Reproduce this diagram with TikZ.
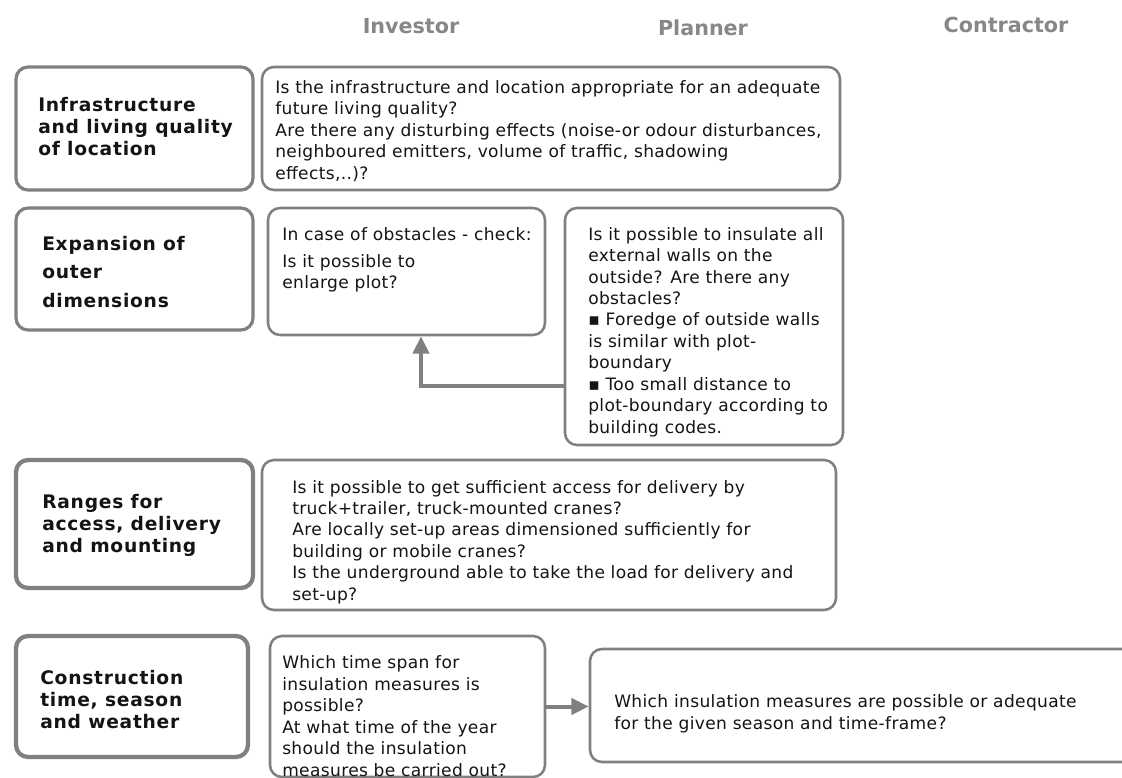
\documentclass[tikz,border=0pt]{standalone}
\usepackage{fontspec}
\setmainfont{DejaVu Sans}
\usetikzlibrary{fit,arrows.meta}
\definecolor{boxgray}{RGB}{128,128,128}
\definecolor{hdrgray}{RGB}{135,135,135}
\definecolor{ink}{RGB}{20,20,20}
\newfontfamily\bodyface[LetterSpace=2]{DejaVu Sans}
\newfontfamily\labelface[LetterSpace=4]{DejaVu Sans}
\tikzset{
  box/.style={draw=boxgray, line width=1.9pt, rounded corners=9pt, inner sep=0pt},
  topicbox/.style={box, line width=2.4pt},
  heavybox/.style={box, line width=3.2pt},
  txt/.style={inner sep=0pt, align=left, anchor=west, text=ink,
    font=\bodyface\fontsize{12.8}{16.1}\selectfont},
  lbl/.style={inner sep=0pt, align=left, anchor=west, text=ink,
    font=\labelface\bfseries\fontsize{14}{16.5}\selectfont},
  hdr/.style={inner sep=0pt, text=hdrgray, font=\bfseries\fontsize{15.5}{17}\selectfont},
  conn/.style={draw=boxgray, line width=3pt, -{Triangle[length=13pt,width=12pt]}}
}
\begin{document}
\begin{tikzpicture}[x=0.75pt, y=-0.75pt]
\clip (0,0) rectangle (1122,778);
\fill[white] (0,0) rectangle (1122,778);

% column headings
\node[hdr] (hInv) at (411,26) {Investor};
\node[hdr] (hPla) at (703,28) {Planner};
\node[hdr] (hCon) at (1006,25) {Contractor};

% row 1: infrastructure
\node[topicbox, fit={(16,67) (253,190)}] (l1) {};
\node[lbl] (l1t) at (38,127) {Infrastructure\\and living quality\\of location};
\node[box, fit={(262,67) (840,190)}] (t1) {};
\node[txt] (t1t) at (275,131) {Is the infrastructure and location appropriate for an adequate\\
future living quality?\\
Are there any disturbing effects (noise-or odour disturbances,\\
neighboured emitters, volume of traffic, shadowing\\
effects,..)?};

% row 2: expansion of outer dimensions
\node[topicbox, fit={(16,208) (253,330)}] (l2) {};
\node[lbl] (l2t) at (42,272) {Expansion of\\[5pt]outer\\[5pt]dimensions};
\node[box, fit={(268,208) (545,335)}] (m2) {};
\node[txt] (m2t) at (282,260) {In case of obstacles - check:\\[4pt]
Is it possible to\\
enlarge plot?};
\node[box, fit={(565,208) (843,445)}] (r2) {};
\node[txt] (r2t) at (588,332) {Is it possible to insulate all\\
external walls on the\\
outside? Are there any\\
obstacles?\\
▪ Foredge of outside walls\\
is similar with plot-\\
boundary\\
▪ Too small distance to\\
plot-boundary according to\\
building codes.};
\coordinate (bend) at (421,386);
\draw[conn] (r2.west |- bend) -- (bend) -- (bend |- m2.south);

% row 3: access, delivery and mounting
\node[heavybox, fit={(16,460) (253,588)}] (l3) {};
\node[lbl] (l3t) at (42,525) {Ranges for\\access, delivery\\and mounting};
\node[box, fit={(262,460) (836,610)}] (t3) {};
\node[txt] (t3t) at (292,542) {Is it possible to get sufficient access for delivery by\\
truck+trailer, truck-mounted cranes?\\
Are locally set-up areas dimensioned sufficiently for\\
building or mobile cranes?\\
Is the underground able to take the load for delivery and\\
set-up?};

% row 4: construction time
\node[heavybox, fit={(16,636) (248,757)}] (l4) {};
\node[lbl] (l4t) at (40,700) {Construction\\time, season\\and weather};
\node[box, fit={(270,636) (545,777)}] (m4) {};
\node[txt] (m4t) at (282,716) {Which time span for\\
insulation measures is\\
possible?\\
At what time of the year\\
should the insulation\\
measures be carried out?};
\node[box, fit={(590,649) (1140,762)}] (r4) {};
\node[txt] (r4t) at (614,714) {Which insulation measures are possible or adequate\\
for the given season and time-frame?};
\draw[conn] (m4.east) -- (m4.east -| r4.west);
\end{tikzpicture}
\end{document}
